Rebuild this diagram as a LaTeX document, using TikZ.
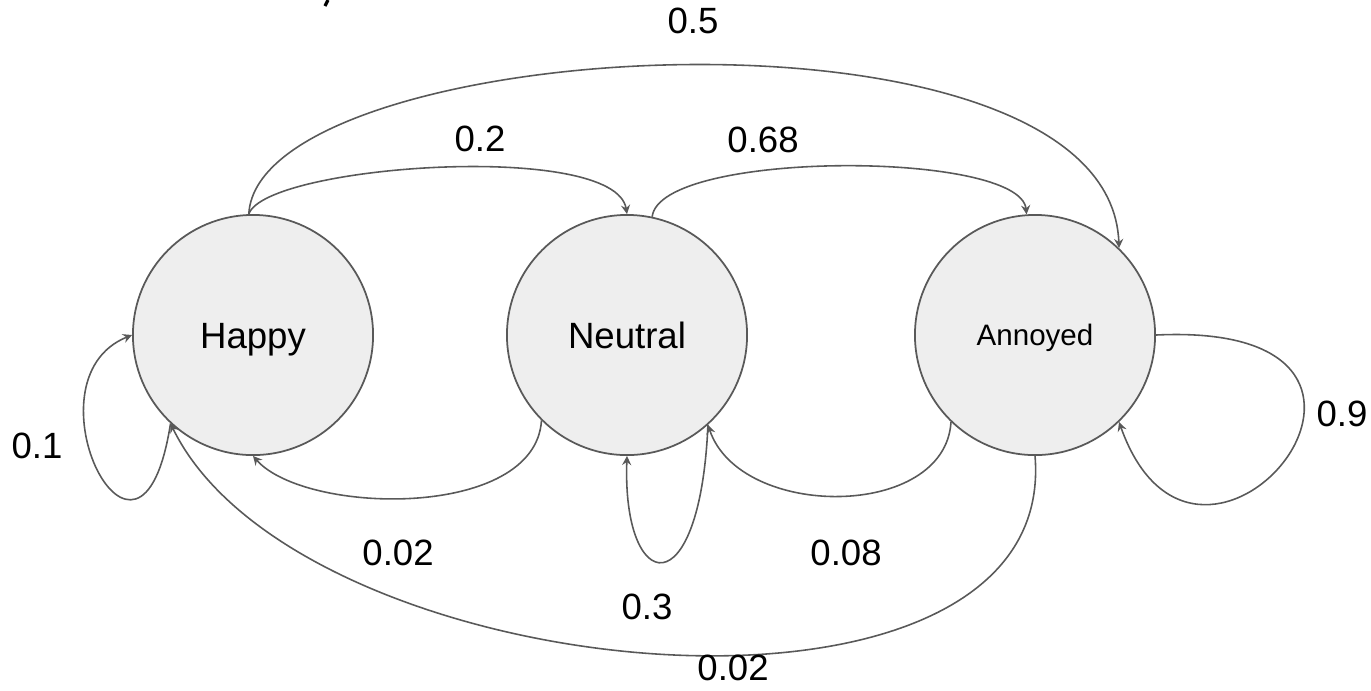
\documentclass[tikz,border=0pt]{standalone}
\usepackage{fontspec}
\setmainfont{Liberation Sans}
\usetikzlibrary{arrows.meta}
\definecolor{edgegray}{HTML}{595959}
\definecolor{statefill}{HTML}{EEEEEE}
\begin{document}
\begin{tikzpicture}[x=0.01cm,y=-0.01cm,
  state/.style={circle,draw=edgegray,fill=statefill,line width=0.5pt,
    minimum size=2.4cm,inner sep=0pt,text height=7.5pt,text depth=0pt,
    font=\fontsize{10.4pt}{12pt}\selectfont},
  trans/.style={draw=edgegray,line width=0.45pt,
    -{Stealth[length=2.6pt,width=2.6pt,inset=0.9pt]}},
  prob/.style={font=\fontsize{10.4pt}{12pt}\selectfont,inner sep=0pt,
    text height=7.5pt,text depth=0pt}]
\useasboundingbox (0,0) rectangle (1371,690);

% states
\node[state] (H) at (253,335) {Happy};
\node[state] (N) at (627,335) {Neutral};
\node[state,font=\fontsize{8.4pt}{10pt}\selectfont,text height=6pt] (A) at (1035,335) {Annoyed};

% transitions
\draw[trans] (H.92) .. controls (258,35) and (1110,-15) .. (A.46);
\draw[trans] (H.92) .. controls (265,165) and (615,140) .. (N.90);
\draw[trans] (N.78) .. controls (660,150) and (1020,150) .. (A.94);
\draw[trans] (H.227) .. controls (140,620) and (20,380) .. (H.180);
\draw[trans] (N.225) .. controls (535,520) and (305,515) .. (H.270);
\draw[trans] (N.312) .. controls (700,610) and (622,595) .. (N.270);
\draw[trans] (A.226) .. controls (945,520) and (740,520) .. (N.312);
\draw[trans] (A.0) .. controls (1470,320) and (1200,650) .. (A.314);
\draw[trans] (A.270) .. controls (1060,760) and (300,690) .. (H.227);

% probabilities
\node[prob] (p05) at (693,20) {0.5};
\node[prob] (p02a) at (480,138) {0.2};
\node[prob] (p068) at (763,139) {0.68};
\node[prob] (p01) at (37,445) {0.1};
\node[prob] (p09) at (1342,413) {0.9};
\node[prob] (p002a) at (398,552) {0.02};
\node[prob] (p03) at (647,606) {0.3};
\node[prob] (p008) at (846,552) {0.08};
\node[prob] (p002b) at (733,667) {0.02};

% small mark at the top edge
\draw[line width=0.9pt] (328,0) -- (325,6);
\end{tikzpicture}
\end{document}
